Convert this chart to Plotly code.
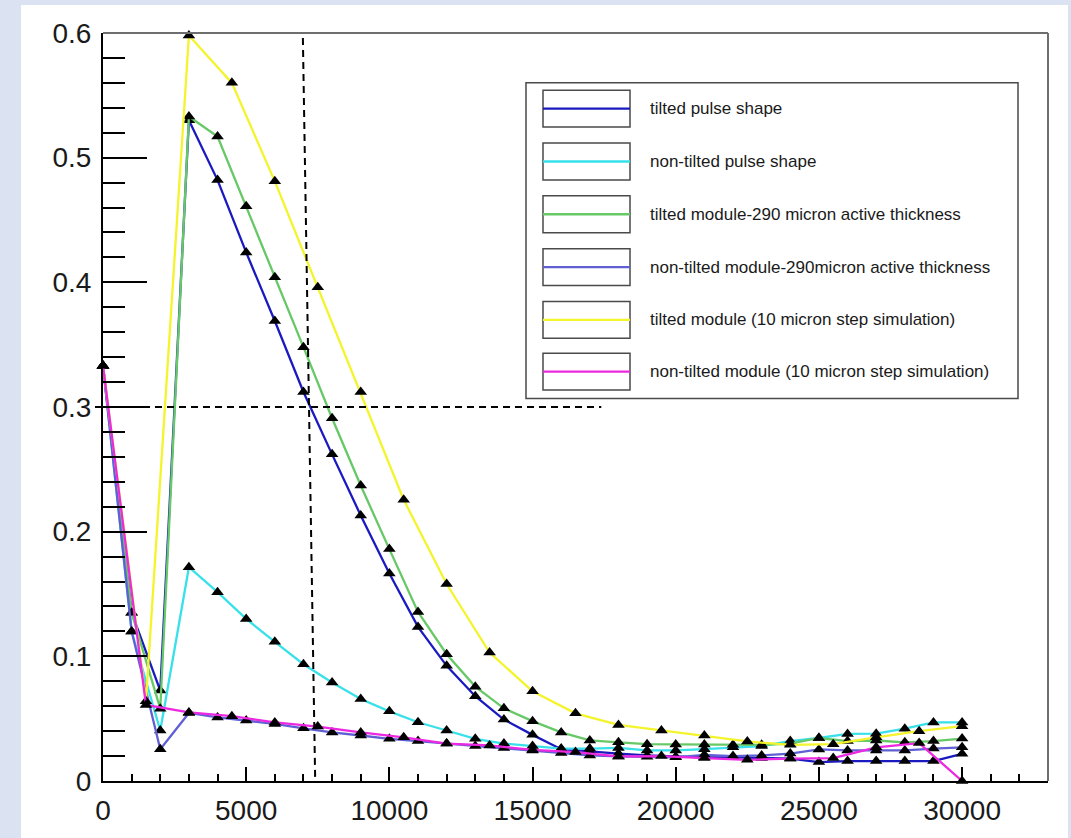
import plotly.graph_objects as go

# ---------------------------------------------------------------------------
# Data
# ---------------------------------------------------------------------------
x_pulse = [0, 1000, 2000, 3000, 4000, 5000, 6000, 7000, 8000, 9000, 10000,
           11000, 12000, 13000, 14000, 15000, 16000, 17000, 18000, 19000, 20000,
           21000, 22000, 23000, 24000, 25000, 26000, 27000, 28000, 29000, 30000]

x_step = [0, 1500, 3000, 4500, 6000, 7500, 9000, 10500, 12000, 13500, 15000,
          16500, 18000, 19500, 21000, 22500, 24000, 25500, 27000, 28500, 30000]

tilted_pulse = [0.333, 0.135, 0.0725, 0.530, 0.482, 0.424, 0.369, 0.312, 0.262, 0.213, 0.1665,
                0.1236, 0.0924, 0.068, 0.0493, 0.037, 0.0255, 0.0235, 0.022, 0.0205, 0.0195,
                0.019, 0.019, 0.0185, 0.018, 0.0152, 0.016, 0.016, 0.016, 0.016, 0.0218]

nontilted_pulse = [0.333, 0.120, 0.0405, 0.1715, 0.1515, 0.130, 0.1116, 0.0937, 0.079, 0.0658, 0.0559,
                   0.0471, 0.0405, 0.0338, 0.030, 0.028, 0.026, 0.026, 0.0265, 0.0245, 0.0245,
                   0.0255, 0.027, 0.028, 0.032, 0.0345, 0.0378, 0.038, 0.042, 0.047, 0.047]

tilted_290 = [0.333, 0.135, 0.058, 0.533, 0.517, 0.461, 0.404, 0.348, 0.291, 0.237, 0.186,
              0.1356, 0.1017, 0.0757, 0.0583, 0.048, 0.039, 0.0325, 0.031, 0.0295, 0.0293,
              0.0293, 0.029, 0.029, 0.030, 0.0345, 0.032, 0.0325, 0.031, 0.032, 0.034]

nontilted_290 = [0.333, 0.120, 0.0255, 0.0546, 0.051, 0.0485, 0.0458, 0.0423, 0.039, 0.0365, 0.0338,
                 0.032, 0.030, 0.028, 0.0265, 0.0245, 0.0225, 0.0205, 0.0197, 0.0195, 0.019,
                 0.021, 0.020, 0.0205, 0.022, 0.0253, 0.0245, 0.0245, 0.0245, 0.026, 0.027]

tilted_10um = [0.333, 0.064, 0.598, 0.560, 0.481, 0.396, 0.312, 0.2256, 0.158, 0.103, 0.072,
               0.0543, 0.045, 0.0405, 0.0365, 0.0317, 0.029, 0.0295, 0.035, 0.040, 0.044]

nontilted_10um = [0.333, 0.061, 0.055, 0.052, 0.047, 0.0437, 0.039, 0.035, 0.030, 0.0285, 0.025,
                  0.0232, 0.0197, 0.020, 0.0184, 0.017, 0.018, 0.0184, 0.027, 0.0304, 0.0]

series_names = [
    "tilted pulse shape",
    "non-tilted pulse shape",
    "tilted module-290 micron active thickness",
    "non-tilted module-290micron active thickness",
    "tilted module (10 micron step simulation)",
    "non-tilted module (10 micron step simulation)",
]
series_x = [x_pulse, x_pulse, x_pulse, x_pulse, x_step, x_step]
series_y = [tilted_pulse, nontilted_pulse, tilted_290, nontilted_290, tilted_10um, nontilted_10um]
series_colors = ["#1a1ac0", "#38e0ea", "#66c866", "#6060d4", "#f4f42c", "#ec28e0"]

x_tick_vals = [0, 5000, 10000, 15000, 20000, 25000, 30000]
x_tick_text = ["0", "5000", "10000", "15000", "20000", "25000", "30000"]
y_tick_vals = [0, 0.1, 0.2, 0.3, 0.4, 0.5, 0.6]
y_tick_text = ["0", "0.1", "0.2", "0.3", "0.4", "0.5", "0.6"]

x_range = [0, 33000]
y_range = [0, 0.6]

# reference cut lines
h_cut_y = 0.3
h_cut_x_end = 17400
v_cut_top = (6980, 0.596)
v_cut_bottom = (7410, 0.0)

# ---------------------------------------------------------------------------
# Layout geometry (pixels)
# ---------------------------------------------------------------------------
FIG_W, FIG_H = 1071, 838
M_L, M_R, M_T, M_B = 103, 23, 33, 54
PW = FIG_W - M_L - M_R
PH = FIG_H - M_T - M_B


def fx(px):
    """pixel column -> paper x"""
    return (px - M_L) / PW


def fy(py):
    """pixel row -> paper y"""
    return (M_T + PH - py) / PH


FONT = "Liberation Sans, Arial, Helvetica, sans-serif"
TEXT_COLOR = "#1a1a1a"
MARKER_SIZE = 11

fig = go.Figure()

for name, xs, ys, col in zip(series_names, series_x, series_y, series_colors):
    fig.add_trace(go.Scatter(
        x=xs, y=ys, name=name, mode="lines+markers",
        line=dict(color=col, width=2.3),
        marker=dict(symbol="triangle-up", size=MARKER_SIZE, color="black"),
        cliponaxis=False, showlegend=False,
    ))

shapes = []

# white page area on the tinted background
shapes.append(dict(type="rect", xref="paper", yref="paper", layer="below",
                   x0=fx(21), x1=fx(1068), y0=fy(FIG_H + 20), y1=fy(5),
                   fillcolor="white", line=dict(width=0)))

# top and right frame edges
shapes.append(dict(type="line", xref="paper", yref="paper", x0=0, x1=1, y0=1, y1=1,
                   line=dict(color="#6e6e6e", width=2)))
shapes.append(dict(type="line", xref="paper", yref="paper", x0=1, x1=1, y0=0, y1=1,
                   line=dict(color="#6e6e6e", width=2)))

# dashed reference lines
shapes.append(dict(type="line", xref="paper", yref="y",
                   x0=fx(95), x1=h_cut_x_end / x_range[1], y0=h_cut_y, y1=h_cut_y,
                   line=dict(color="black", width=2, dash="7px,5px")))
shapes.append(dict(type="line", xref="x", yref="y",
                   x0=v_cut_top[0], y0=v_cut_top[1], x1=v_cut_bottom[0], y1=v_cut_bottom[1],
                   line=dict(color="black", width=2, dash="7px,5px")))

# legend frame
LEG_X0, LEG_X1, LEG_Y0, LEG_Y1 = 526, 1018, 83, 400
shapes.append(dict(type="rect", xref="paper", yref="paper",
                   x0=fx(LEG_X0), x1=fx(LEG_X1), y0=fy(LEG_Y1), y1=fy(LEG_Y0),
                   fillcolor="white", line=dict(color="#4a4a4a", width=1.5)))

BOX_X0, BOX_X1 = 543, 630
BOX_HALF = 18.5
row_centers = [109, 162, 215, 268, 321, 373]
annotations = []
leg_mx, leg_my = [], []
for name, col, cy in zip(series_names, series_colors, row_centers):
    shapes.append(dict(type="rect", xref="paper", yref="paper",
                       x0=fx(BOX_X0), x1=fx(BOX_X1), y0=fy(cy + BOX_HALF), y1=fy(cy - BOX_HALF),
                       fillcolor="white", line=dict(color="#4a4a4a", width=1.5)))
    shapes.append(dict(type="line", xref="paper", yref="paper",
                       x0=fx(BOX_X0), x1=fx(BOX_X1), y0=fy(cy), y1=fy(cy),
                       line=dict(color=col, width=2.3)))
    leg_mx.append(fx((BOX_X0 + BOX_X1) / 2))
    leg_my.append(fy(cy))
    annotations.append(dict(xref="paper", yref="paper", x=fx(648), y=fy(cy),
                            xanchor="left", yanchor="middle", showarrow=False,
                            text=name, font=dict(family=FONT, size=17, color=TEXT_COLOR)))

# legend markers on an overlay axis spanning the plot area
fig.add_trace(go.Scatter(
    x=leg_mx, y=leg_my, xaxis="x2", yaxis="y2", mode="markers",
    marker=dict(symbol="triangle-up", size=MARKER_SIZE, color="black"),
    cliponaxis=False, showlegend=False, hoverinfo="skip",
))

fig.update_layout(
    width=FIG_W, height=FIG_H,
    margin=dict(l=M_L, r=M_R, t=M_T, b=M_B, pad=0),
    paper_bgcolor="#dbe2f1",
    plot_bgcolor="white",
    showlegend=False,
    shapes=shapes,
    annotations=annotations,
    xaxis=dict(
        range=x_range, showgrid=False, zeroline=False,
        showline=True, linecolor="black", linewidth=2,
        tickvals=x_tick_vals, ticktext=x_tick_text,
        ticks="inside", ticklen=14, tickwidth=1.5, tickcolor="black",
        minor=dict(dtick=1000, ticks="inside", ticklen=7, tickwidth=1.5, tickcolor="black"),
        tickfont=dict(family=FONT, size=28, color=TEXT_COLOR),
        ticklabelstandoff=3,
    ),
    yaxis=dict(
        range=y_range, showgrid=False, zeroline=False,
        showline=True, linecolor="black", linewidth=2,
        tickvals=y_tick_vals, ticktext=y_tick_text,
        ticks="inside", ticklen=44, tickwidth=1.5, tickcolor="black",
        minor=dict(dtick=0.02, ticks="inside", ticklen=22, tickwidth=1.5, tickcolor="black"),
        tickfont=dict(family=FONT, size=28, color=TEXT_COLOR),
        ticklabelstandoff=4,
    ),
    xaxis2=dict(overlaying="x", range=[0, 1], visible=False),
    yaxis2=dict(overlaying="y", range=[0, 1], visible=False),
)

fig.write_html("out.html")
